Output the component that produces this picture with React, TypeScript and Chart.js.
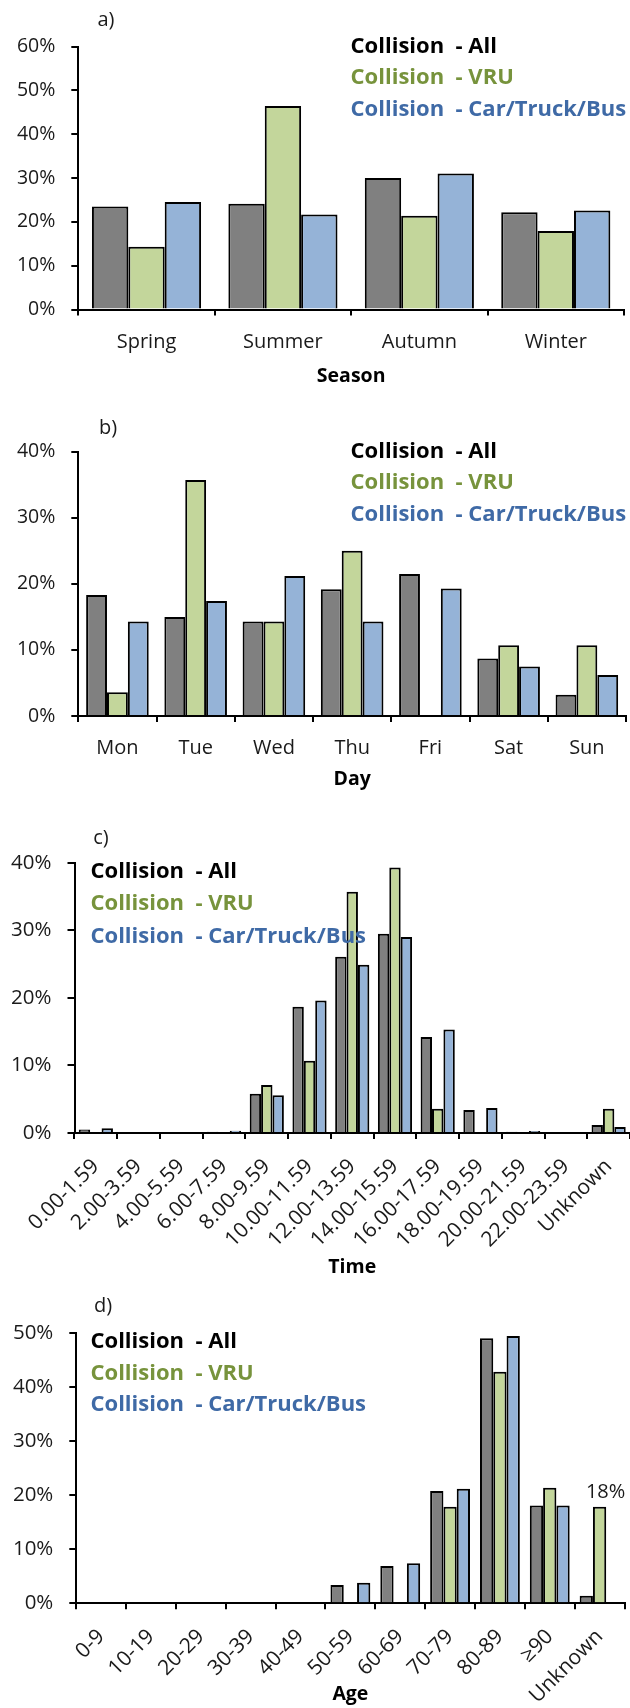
import React, { useEffect, useRef } from "react";
import { Chart, registerables } from "chart.js";

Chart.register(...registerables);

// ---------- data ----------
const seriesNames = ["Collision  - All", "Collision  - VRU", "Collision  - Car/Truck/Bus"];

const seasonLabels = ["Spring", "Summer", "Autumn", "Winter"];
const seasonAll = [23.5, 24.1, 30.0, 22.2];
const seasonVRU = [14.3, 46.4, 21.4, 17.9];
const seasonCTB = [24.5, 21.7, 31.0, 22.6];

const dayLabels = ["Mon", "Tue", "Wed", "Thu", "Fri", "Sat", "Sun"];
const dayAll = [18.3, 15.0, 14.3, 19.2, 21.5, 8.7, 3.2];
const dayVRU = [3.6, 35.7, 14.3, 25.0, 0, 10.7, 10.7];
const dayCTB = [14.3, 17.4, 21.2, 14.3, 19.3, 7.5, 6.2];

const timeLabels = [
  "0.00-1.59", "2.00-3.59", "4.00-5.59", "6.00-7.59", "8.00-9.59", "10.00-11.59",
  "12.00-13.59", "14.00-15.59", "16.00-17.59", "18.00-19.59", "20.00-21.59", "22.00-23.59", "Unknown",
];
const timeAll = [0.5, 0, 0, 0.2, 5.8, 18.7, 26.1, 29.5, 14.2, 3.4, 0.2, 0, 1.2];
const timeVRU = [0, 0, 0, 0, 7.1, 10.7, 35.7, 39.3, 3.6, 0, 0, 0, 3.6];
const timeCTB = [0.7, 0, 0, 0.35, 5.6, 19.6, 24.9, 29.0, 15.3, 3.7, 0.3, 0, 0.9];

const ageLabels = ["0-9", "10-19", "20-29", "30-39", "40-49", "50-59", "60-69", "70-79", "80-89", "≥90", "Unknown"];
const ageAll = [0, 0, 0.2, 0, 0, 3.4, 6.9, 20.8, 49.1, 18.1, 1.4];
const ageVRU = [0, 0, 0, 0, 0, 0, 0, 17.9, 42.9, 21.4, 17.9];
const ageCTB = [0, 0, 0.2, 0, 0, 3.8, 7.4, 21.2, 49.5, 18.1, 0];

// ---------- styles ----------
const FONT = '"Open Sans", "Noto Sans", sans-serif';
const barFills = ["#808080", "#C3D69B", "#95B3D7"];
const legendColors = ["#000000", "#77933C", "#3F6AA6"];
const textColor = "#1a1a1a";

const overlayPlugin = {
  id: "overlay",
  afterDraw(chart: any, _args: any, opts: any) {
    const { ctx, chartArea } = chart;
    ctx.save();
    // panel tag
    ctx.font = `${opts.tagSize}px ${FONT}`;
    ctx.fillStyle = textColor;
    ctx.textAlign = "center";
    ctx.textBaseline = "middle";
    ctx.fillText(opts.tag, opts.tagX, opts.tagY);
    // in-plot legend (coloured text)
    ctx.font = `bold ${opts.legendSize}px ${FONT}`;
    ctx.textAlign = "left";
    chart.data.datasets.forEach((ds: any, i: number) => {
      ctx.fillStyle = legendColors[i];
      ctx.fillText(ds.label, chartArea.left + opts.legendDx, chartArea.top + opts.legendDy + i * opts.legendGap);
    });
    // optional data label
    if (opts.dataLabel) {
      const dl = opts.dataLabel;
      const el = chart.getDatasetMeta(dl.dataset).data[dl.index];
      const v = chart.data.datasets[dl.dataset].data[dl.index];
      ctx.font = `${dl.size}px ${FONT}`;
      ctx.fillStyle = textColor;
      ctx.textAlign = "center";
      ctx.textBaseline = "alphabetic";
      ctx.fillText(`${Math.round(v)}%`, el.x + dl.dx, el.y + dl.dy);
    }
    ctx.restore();
  },
};

type Panel = {
  top: number;
  height: number;
  labels: string[];
  all: number[];
  vru: number[];
  ctb: number[];
  max: number;
  padTop: number;
  padRight: number;
  yw: number;
  xh: number;
  yTickSize: number;
  xTickSize: number;
  xTickPad: number;
  rotate: boolean;
  title: string;
  titlePad: number;
  overlay: any;
};

const panels: Panel[] = [
  {
    top: 0, height: 395, labels: seasonLabels, all: seasonAll, vru: seasonVRU, ctb: seasonCTB,
    max: 60, padTop: 46.5, padRight: 6, yw: 78.3, xh: 85.5, yTickSize: 19.5, xTickSize: 20, xTickPad: 14.5,
    rotate: false, title: "Season", titlePad: 6.6,
    overlay: { tag: "a)", tagX: 106, tagY: 20, tagSize: 20, legendSize: 22, legendDx: 272.3, legendDy: 0, legendGap: 31.7 },
  },
  {
    top: 395, height: 400, labels: dayLabels, all: dayAll, vru: dayVRU, ctb: dayCTB,
    max: 40, padTop: 56.7, padRight: 4, yw: 78.3, xh: 79, yTickSize: 19.5, xTickSize: 20, xTickPad: 14.3,
    rotate: false, title: "Day", titlePad: 3.6,
    overlay: { tag: "b)", tagX: 108, tagY: 33, tagSize: 20, legendSize: 22, legendDx: 272.3, legendDy: 0, legendGap: 31.3 },
  },
  {
    top: 795, height: 490, labels: timeLabels, all: timeAll, vru: timeVRU, ctb: timeCTB,
    max: 40, padTop: 67.7, padRight: 0, yw: 74.5, xh: 152, yTickSize: 20.5, xTickSize: 21, xTickPad: 15,
    rotate: true, title: "Time", titlePad: 5.6,
    overlay: { tag: "c)", tagX: 101, tagY: 43, tagSize: 20, legendSize: 22, legendDx: 16, legendDy: 9, legendGap: 32.5 },
  },
  {
    top: 1285, height: 423, labels: ageLabels, all: ageAll, vru: ageVRU, ctb: ageCTB,
    max: 50, padTop: 48.3, padRight: 5.5, yw: 76.3, xh: 104.7, yTickSize: 20.5, xTickSize: 21, xTickPad: 15,
    rotate: true, title: "Age", titlePad: 1.6,
    overlay: {
      tag: "d)", tagX: 103, tagY: 21.7, tagSize: 20, legendSize: 22, legendDx: 14.2, legendDy: 8.4, legendGap: 31.7,
      dataLabel: { dataset: 1, index: 10, dx: 6, dy: -9, size: 20 },
    },
  },
];

function makeConfig(p: Panel): any {
  const series = [p.all, p.vru, p.ctb];
  return {
    type: "bar",
    data: {
      labels: p.labels,
      datasets: series.map((d, i) => ({
        label: seriesNames[i],
        data: d,
        backgroundColor: barFills[i],
        borderColor: "#000000",
        borderWidth: 2,
        categoryPercentage: 0.8,
        barPercentage: 1.0,
      })),
    },
    options: {
      responsive: false,
      animation: false,
      events: [],
      layout: { padding: { top: p.padTop, right: p.padRight, left: 0, bottom: 0 } },
      plugins: {
        legend: { display: false },
        tooltip: { enabled: false },
        overlay: p.overlay,
      },
      scales: {
        x: {
          grid: { offset: true, drawOnChartArea: false, drawTicks: true, tickLength: 6, color: "#000000", lineWidth: 2 },
          border: { display: true, color: "#000000", width: 2 },
          ticks: {
            autoSkip: false,
            color: textColor,
            font: { family: FONT, size: p.xTickSize },
            padding: p.xTickPad,
            minRotation: p.rotate ? 45 : 0,
            maxRotation: p.rotate ? 45 : 0,
          },
          title: {
            display: true,
            text: p.title,
            color: "#000000",
            font: { family: FONT, size: 19.5, weight: "bold" },
            padding: { top: 0, bottom: p.titlePad },
          },
          afterFit: (s: any) => {
            s.height = p.xh;
            s.paddingLeft = 0;
            s.paddingRight = 0;
          },
        },
        y: {
          min: 0,
          max: p.max,
          ticks: {
            stepSize: 10,
            color: textColor,
            font: { family: FONT, size: p.yTickSize },
            padding: 16,
            callback: (v: any) => `${v}%`,
          },
          grid: { drawOnChartArea: false, drawTicks: true, tickLength: 7, color: "#000000", lineWidth: 2 },
          border: { display: true, color: "#000000", width: 2 },
          afterFit: (s: any) => {
            s.width = p.yw;
            s.paddingTop = 0;
            s.paddingBottom = 0;
          },
        },
      },
    },
    plugins: [overlayPlugin],
  };
}

function PanelChart({ p }: { p: Panel }) {
  const ref = useRef<HTMLCanvasElement | null>(null);
  useEffect(() => {
    if (!ref.current) return;
    const chart = new Chart(ref.current, makeConfig(p));
    let alive = true;
    if ((document as any).fonts) {
      Promise.all([
        (document as any).fonts.load(`20px ${FONT}`),
        (document as any).fonts.load(`bold 20px ${FONT}`),
      ]).then(() => {
        if (alive) chart.update();
      }).catch(() => {});
    }
    return () => {
      alive = false;
      chart.destroy();
    };
  }, [p]);
  return (
    <canvas
      ref={ref}
      width={630}
      height={p.height}
      style={{ position: "absolute", left: 0, top: p.top, width: 630, height: p.height }}
    />
  );
}

export default function App() {
  return (
    <div style={{ position: "absolute", left: 0, top: 0, width: 630, height: 1708, background: "#ffffff" }}>
      {panels.map((p, i) => (
        <PanelChart key={i} p={p} />
      ))}
    </div>
  );
}
